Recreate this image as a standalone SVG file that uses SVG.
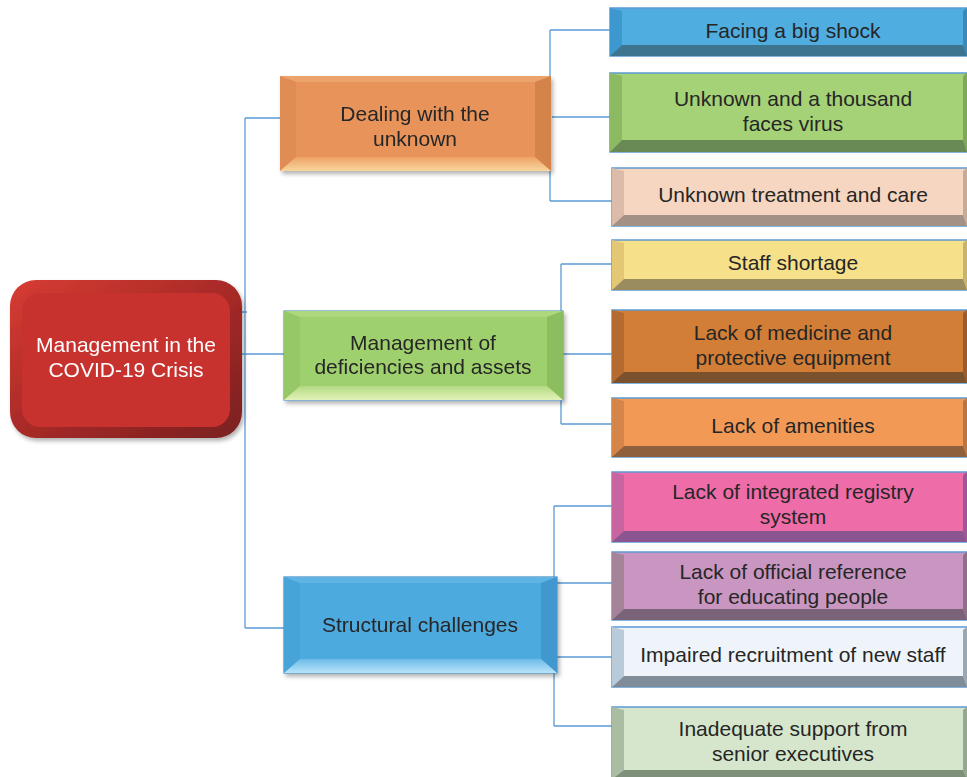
<svg xmlns="http://www.w3.org/2000/svg" width="967" height="777" viewBox="0 0 967 777">
<style>
.t{font-family:"Liberation Sans",Arial,sans-serif;font-size:21px;fill:#262626;text-anchor:middle}
.w{fill:#ffffff}
.c{stroke:#5b9bd5;stroke-width:1.3;fill:none}
.lb{stroke:#5b9bd5;stroke-width:1.5}
</style>
<defs>
<linearGradient id="rootG" x1="0" y1="0" x2="1" y2="1">
<stop offset="0" stop-color="#d83c32"/><stop offset="0.5" stop-color="#a82a28"/><stop offset="1" stop-color="#7a1f1f"/>
</linearGradient>
<linearGradient id="bo" x1="0" y1="0" x2="0" y2="1"><stop offset="0" stop-color="#eea264"/><stop offset="1" stop-color="#f8d69e"/></linearGradient>
<linearGradient id="bg" x1="0" y1="0" x2="0" y2="1"><stop offset="0" stop-color="#b2da82"/><stop offset="1" stop-color="#e2f2b8"/></linearGradient>
<linearGradient id="bb" x1="0" y1="0" x2="0" y2="1"><stop offset="0" stop-color="#6cbbe8"/><stop offset="1" stop-color="#b8e4fa"/></linearGradient>
<filter id="sh" x="-5%" y="-5%" width="115%" height="125%"><feDropShadow dx="2" dy="3" stdDeviation="2" flood-color="#000" flood-opacity="0.3"/></filter>
</defs>

<g id="connectors">
<path class="c" d="M245,118 V628 M245,118 H280 M242,354 H285 M245,628 H284 M242,312 H247"/>
<path class="c" d="M550,30 V201 M550,30 H610 M552,117 H611 M550,201 H612"/>
<path class="c" d="M561,264 V424 M561,264 H612 M563,354 H612 M561,424 H612"/>
<path class="c" d="M554,506 V726 M554,506 H612 M554,583 H612 M554,657 H612 M554,726 H612 M530,628 H555"/>
</g>

<g id="root" filter="url(#sh)">
<rect x="10" y="280" width="232" height="158" rx="26" fill="url(#rootG)"/>
<rect x="22" y="293" width="208" height="134" rx="18" fill="#c8322f"/>
<text class="t w" x="126" y="352">Management in the</text>
<text class="t w" x="126" y="377">COVID-19 Crisis</text>
</g>

<g id="mid1" filter="url(#sh)">
<rect x="280" y="76" width="271" height="95" fill="#e8935a"/>
<polygon points="280,76 551,76 535,82 296,82" fill="#eda46c"/>
<polygon points="280,76 296,82 296,157 280,171" fill="#e08c54"/>
<polygon points="551,76 535,82 535,157 551,171" fill="#d4834c"/>
<polygon points="280,171 296,157 535,157 551,171" fill="url(#bo)"/>
<text class="t" x="415" y="121">Dealing with the</text>
<text class="t" x="415" y="146">unknown</text>
</g>

<g id="mid2" filter="url(#sh)">
<rect x="284" y="311" width="279" height="89" fill="#9fd06e" stroke="#5b9bd5" stroke-width="1.2"/>
<polygon points="284,311 563,311 547,317 300,317" fill="#aed87c"/>
<polygon points="284,311 300,317 300,386 284,400" fill="#97c867"/>
<polygon points="563,311 547,317 547,386 563,400" fill="#8cbd5e"/>
<polygon points="284,400 300,386 547,386 563,400" fill="url(#bg)"/>
<text class="t" x="423" y="350">Management of</text>
<text class="t" x="423" y="374">deficiencies and assets</text>
</g>

<g id="mid3" filter="url(#sh)">
<rect x="284" y="577" width="273" height="96" fill="#4eaade" stroke="#4a8ec4" stroke-width="1.2"/>
<polygon points="284,577 557,577 541,583 300,583" fill="#5fb4e4"/>
<polygon points="284,577 300,583 300,659 284,673" fill="#47a3d8"/>
<polygon points="557,577 541,583 541,659 557,673" fill="#4198ce"/>
<polygon points="284,673 300,659 541,659 557,673" fill="url(#bb)"/>
<text class="t" x="420" y="632">Structural challenges</text>
</g>

<g id="leaf1">
<rect class="lb" x="610" y="8" width="358" height="48" fill="#4fade0"/>
<polygon points="610,8 622,11 622,45 610,56" fill="#3d98cf"/>
<polygon points="967,8 963,11 963,45 967,56" fill="#3d88b8"/>
<polygon points="610,56 622,45 963,45 967,56" fill="#3d7590"/>
<text class="t" x="793" y="38">Facing a big shock</text>
</g>

<g id="leaf2">
<rect class="lb" x="610" y="73" width="358" height="79" fill="#a5d276"/>
<polygon points="610,73 622,76 622,140 610,152" fill="#8cba62"/>
<polygon points="967,73 963,76 963,140 967,152" fill="#7fa85a"/>
<polygon points="610,152 622,140 963,140 967,152" fill="#6a8a55"/>
<text class="t" x="793" y="106">Unknown and a thousand</text>
<text class="t" x="793" y="131">faces virus</text>
</g>

<g id="leaf3">
<rect class="lb" x="612" y="168" width="356" height="58" fill="#f6d6c0"/>
<polygon points="612,168 624,171 624,215 612,226" fill="#dcbca8"/>
<polygon points="967,168 963,171 963,215 967,226" fill="#c7ab98"/>
<polygon points="612,226 624,215 963,215 967,226" fill="#a39186"/>
<text class="t" x="793" y="202">Unknown treatment and care</text>
</g>

<g id="leaf4">
<rect class="lb" x="612" y="240" width="356" height="50" fill="#f6e08a"/>
<polygon points="612,240 624,243 624,279 612,290" fill="#e3c775"/>
<polygon points="967,240 963,243 963,279 967,290" fill="#c9b46e"/>
<polygon points="612,290 624,279 963,279 967,290" fill="#9a8c5e"/>
<text class="t" x="793" y="270">Staff shortage</text>
</g>

<g id="leaf5">
<rect class="lb" x="612" y="310" width="356" height="73" fill="#d37e37"/>
<polygon points="612,310 624,313 624,372 612,383" fill="#b56a30"/>
<polygon points="967,310 963,313 963,372 967,383" fill="#9a5c2c"/>
<polygon points="612,383 624,372 963,372 967,383" fill="#7a522e"/>
<text class="t" x="793" y="340">Lack of medicine and</text>
<text class="t" x="793" y="365">protective equipment</text>
</g>

<g id="leaf6">
<rect class="lb" x="612" y="398" width="356" height="59" fill="#f29a55"/>
<polygon points="612,398 624,401 624,446 612,457" fill="#d5844a"/>
<polygon points="967,398 963,401 963,446 967,457" fill="#b97644"/>
<polygon points="612,457 624,446 963,446 967,457" fill="#8f603c"/>
<text class="t" x="793" y="433">Lack of amenities</text>
</g>

<g id="leaf7">
<rect class="lb" x="612" y="472" width="356" height="70" fill="#ee6ca8"/>
<polygon points="612,472 624,475 624,531 612,542" fill="#c865a0"/>
<polygon points="967,472 963,475 963,531 967,542" fill="#a0559a"/>
<polygon points="612,542 624,531 963,531 967,542" fill="#8a5590"/>
<text class="t" x="793" y="499">Lack of integrated registry</text>
<text class="t" x="793" y="524">system</text>
</g>

<g id="leaf8">
<rect class="lb" x="612" y="552" width="356" height="68" fill="#c896c0"/>
<polygon points="612,552 624,555 624,609 612,620" fill="#a58499"/>
<polygon points="967,552 963,555 963,609 967,620" fill="#8e7088"/>
<polygon points="612,620 624,609 963,609 967,620" fill="#7a6278"/>
<text class="t" x="793" y="579">Lack of official reference</text>
<text class="t" x="793" y="604">for educating people</text>
</g>

<g id="leaf9">
<rect class="lb" x="612" y="627" width="356" height="60" fill="#eef4f9"/>
<polygon points="612,627 624,630 624,676 612,687" fill="#b9cbd8"/>
<polygon points="967,627 963,630 963,676 967,687" fill="#9aa8b4"/>
<polygon points="612,687 624,676 963,676 967,687" fill="#808d98"/>
<text class="t" x="793" y="662">Impaired recruitment of new staff</text>
</g>

<g id="leaf10">
<rect class="lb" x="612" y="707" width="356" height="72" fill="#d5e6cc"/>
<polygon points="612,707 624,710 624,770 612,779" fill="#aabda3"/>
<polygon points="967,707 963,710 963,770 967,779" fill="#95a88f"/>
<polygon points="612,779 624,770 963,770 967,779" fill="#7e8f7a"/>
<text class="t" x="793" y="736">Inadequate support from</text>
<text class="t" x="793" y="761">senior executives</text>
</g>
</svg>
